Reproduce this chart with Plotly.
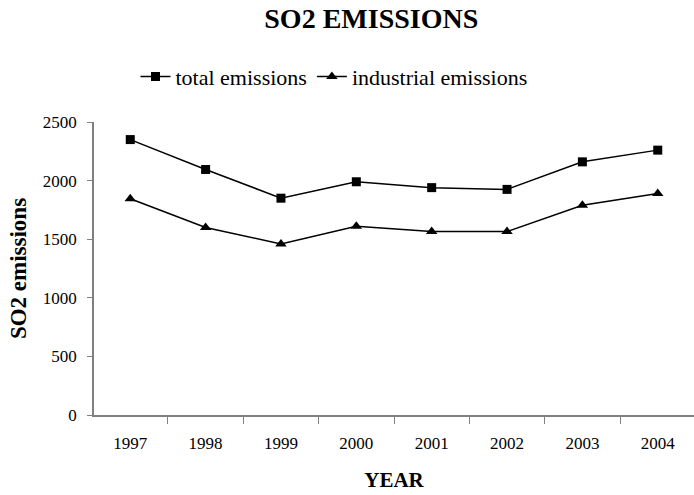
import plotly.graph_objects as go

years = ["1997", "1998", "1999", "2000", "2001", "2002", "2003", "2004"]
total_emissions = [2350, 2095, 1850, 1990, 1940, 1925, 2160, 2260]
industrial_emissions = [1845, 1600, 1460, 1610, 1565, 1565, 1790, 1890]

serif = "Liberation Serif, Times New Roman, serif"

fig = go.Figure()
fig.add_trace(go.Scatter(
    x=years, y=total_emissions, name="total emissions",
    mode="lines+markers",
    line=dict(color="black", width=1.5),
    marker=dict(symbol="square", size=9, color="black"),
))
fig.add_trace(go.Scatter(
    x=years, y=industrial_emissions, name="industrial emissions",
    mode="lines+markers",
    line=dict(color="black", width=1.5),
    marker=dict(symbol="triangle-up", size=10, color="black"),
))

fig.update_layout(
    width=694, height=495,
    margin=dict(l=94, r=0, t=122, b=80),
    paper_bgcolor="white", plot_bgcolor="white",
    font=dict(family=serif, color="black", size=17),
    title=dict(text="<b>SO2 EMISSIONS</b>", x=0.535, xanchor="center",
               y=0.964, yanchor="middle", font=dict(size=28, family=serif)),
    showlegend=True,
    legend=dict(orientation="h", x=0.40, xanchor="center", y=1.155, yanchor="middle",
                font=dict(size=22, family=serif), itemwidth=30, tracegroupgap=0),
    xaxis=dict(
        type="category", tickson="boundaries", ticks="outside", ticklen=7,
        tickcolor="#808080", showline=True, linecolor="#808080", linewidth=1.5,
        showgrid=False, zeroline=False, ticklabelstandoff=12,
        tickfont=dict(size=17),
        title=dict(text="<b>YEAR</b>", font=dict(size=21, family=serif), standoff=20),
    ),
    yaxis=dict(
        range=[0, 2500], dtick=500, ticks="outside", ticklen=5,
        tickcolor="#808080", showline=True, linecolor="#808080", linewidth=1.5,
        showgrid=False, zeroline=False, ticklabelstandoff=7,
        tickfont=dict(size=17),
        title=dict(text="<b>SO2 emissions</b>", font=dict(size=23, family=serif), standoff=10),
    ),
)

fig.write_html("out.html")
